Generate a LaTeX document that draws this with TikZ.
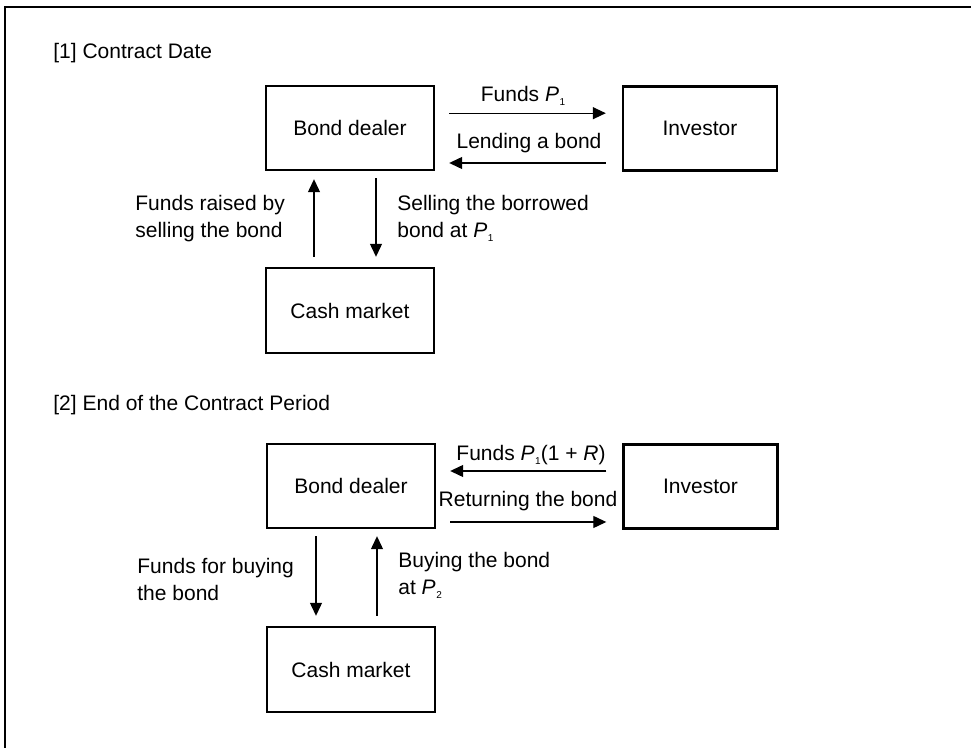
\documentclass[tikz,border=0pt]{standalone}
\usepackage{fontspec}
\setmainfont{Liberation Sans}
\usetikzlibrary{arrows.meta}
\newcommand{\Psub}[1]{\textit{P}\kern0.3pt\raisebox{-0.4ex}{\fontsize{5}{5}\selectfont #1}}
\begin{document}
\begin{tikzpicture}[x=0.5pt,y=-0.5pt, font=\fontsize{10.5}{13.5}\selectfont,
 box/.style={draw, line width=1.2pt, minimum width=84pt, minimum height=42pt, inner sep=0pt},
 invbox/.style={box, minimum width=77pt},
 arr/.style={-{Triangle[length=6.5pt,width=6pt]}, line width=0.6pt},
 lbl/.style={inner sep=0pt, align=left, anchor=west},
 clbl/.style={inner sep=0pt}]
\useasboundingbox (0,0) rectangle (971,748);
\draw[line width=0.7pt] (971,7) -- (5,7) -- (5,748);

% Section 1
\node[lbl] (t1) at (53,53) {[1] Contract Date};
\node[box] (bd1) at (350,128) {Bond dealer};
\node[invbox] (inv1) at (700,128.5) {Investor};
\node[box, minimum height=42.5pt] (cm1) at (350,310.5) {Cash market};

\draw[arr, shorten <=7pt, shorten >=8pt] ([yshift=7.4pt]bd1.east) -- ([yshift=7.4pt]bd1.east -| inv1.west);
\draw[arr, shorten <=8pt, shorten >=7pt] ([yshift=-17.5pt]bd1.east -| inv1.west) -- ([yshift=-17.5pt]bd1.east);
\draw[arr, shorten <=5pt, shorten >=4pt] ([xshift=-18pt]cm1.north) -- ([xshift=-18pt]bd1.south);
\draw[arr, shorten <=3.5pt, shorten >=5pt] ([xshift=13pt]bd1.south) -- ([xshift=13pt]cm1.north);

\node[clbl] (l1) at (523,96) {Funds \Psub{1}};
\node[clbl] (l2) at (529,143) {Lending a bond};
\node[lbl] (l3) at (135,218.5) {Funds raised by\\selling the bond};
\node[lbl] (l4) at (397,218.5) {Selling the borrowed\\bond at \Psub{1}};

% Section 2
\node[lbl] (t2) at (53,405) {[2] End of the Contract Period};
\node[box] (bd2) at (351,486) {Bond dealer};
\node[invbox] (inv2) at (700.5,486.5) {Investor};
\node[box, minimum height=42.5pt] (cm2) at (351,669.5) {Cash market};

\draw[arr, shorten <=8pt, shorten >=7pt] ([yshift=7.5pt]bd2.east -| inv2.west) -- ([yshift=7.5pt]bd2.east);
\draw[arr, shorten <=7pt, shorten >=8pt] ([yshift=-18pt]bd2.east) -- ([yshift=-18pt]bd2.east -| inv2.west);
\draw[arr, shorten <=3.5pt, shorten >=5pt] ([xshift=-17.5pt]bd2.south) -- ([xshift=-17.5pt]cm2.north);
\draw[arr, shorten <=5pt, shorten >=3.5pt] ([xshift=13pt]cm2.north) -- ([xshift=13pt]bd2.south);

\node[clbl] (l5) at (531,455) {Funds \Psub{1}(1 + \textit{R})};
\node[clbl] (l6) at (528,501) {Returning the bond};
\node[lbl] (l7) at (137,579) {Funds for buying\\the bond};
\node[lbl] (l8) at (398,575.5) {Buying the bond\\at \Psub{2}};
\end{tikzpicture}
\end{document}
